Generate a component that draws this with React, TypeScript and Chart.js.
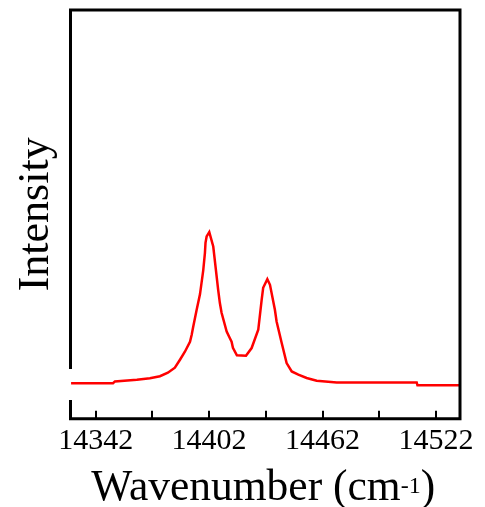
import React, { useEffect, useRef } from "react";
import { Chart, registerables } from "chart.js";

Chart.register(...registerables);

// ---- data ----
const wavenumbers = [
  14329, 14351.2, 14352.2, 14363.8, 14370.7, 14376.0, 14380.2, 14383.9, 14386.6, 14389.2,
  14391.9, 14392.8, 14393.6, 14395.4, 14397.2, 14398.9, 14399.8, 14400.1, 14400.7, 14402.1,
  14404.2, 14406.8, 14407.7, 14408.6, 14411.3, 14413.0, 14413.9, 14414.6, 14416.7, 14421.5,
  14424.5, 14428.0, 14429.8, 14430.6, 14432.8, 14434.2, 14436.8, 14437.7, 14440.4, 14443.0,
  14445.7, 14449.2, 14453.6, 14458.9, 14469.5, 14511.8, 14512.2, 14534.7,
];
const intensities = [
  8.68, 8.68, 9.12, 9.54, 9.9, 10.39, 11.25, 12.47, 14.43, 16.38,
  18.83, 20.54, 22.5, 26.6, 30.5, 36.3, 40.59, 43.03, 44.6, 45.65,
  42.13, 31.54, 28.3, 25.92, 21.34, 19.67, 18.83, 17.36, 15.53, 15.4,
  17.29, 21.76, 29.1, 32.03, 34.16, 32.76, 26.65, 23.79, 18.51, 13.62,
  11.56, 10.76, 9.95, 9.29, 8.88, 8.88, 8.19, 8.19,
];
const xTickValues = [14342, 14372, 14402, 14432, 14462, 14492, 14522];
const xTickLabels = ["14342", "", "14402", "", "14462", "", "14522"];
const xTitleMain = "Wavenumber (cm";
const xTitleSup = "-1";
const xTitleEnd = ")";
const yTitle = "Intensity";

const X_MIN = 14328.7;
const X_MAX = 14534.7;
const Y_MIN = 0;
const Y_MAX = 100;
const FONT = "'Liberation Serif', 'Times New Roman', serif";

const framePlugin = {
  id: "frameAndTitle",
  afterDraw(chart: any) {
    const { ctx, chartArea } = chart;
    const xs = chart.scales.x;
    const ys = chart.scales.y;
    const { left, right, top, bottom } = chartArea;
    ctx.save();
    // frame
    ctx.strokeStyle = "#000";
    ctx.lineWidth = 3;
    ctx.lineCap = "square";
    ctx.beginPath();
    ctx.moveTo(left, top);
    ctx.lineTo(right, top);
    ctx.lineTo(right, bottom);
    ctx.lineTo(left, bottom);
    ctx.lineTo(left, ys.getPixelForValue(4.2));
    ctx.moveTo(left, ys.getPixelForValue(12.5));
    ctx.lineTo(left, top);
    ctx.stroke();
    // inward ticks
    ctx.lineWidth = 2;
    ctx.lineCap = "butt";
    ctx.beginPath();
    for (const v of xTickValues) {
      const px = Math.round(xs.getPixelForValue(v));
      ctx.moveTo(px, bottom);
      ctx.lineTo(px, bottom - 8);
    }
    ctx.stroke();
    // x title with superscript
    ctx.fillStyle = "#000";
    ctx.textBaseline = "alphabetic";
    ctx.textAlign = "left";
    const mainFont = `43.5px ${FONT}`;
    const supFont = `24px ${FONT}`;
    ctx.font = mainFont;
    const w1 = ctx.measureText(xTitleMain).width;
    const w3 = ctx.measureText(xTitleEnd).width;
    ctx.font = supFont;
    const w2 = ctx.measureText(xTitleSup).width;
    const total = w1 + w2 + w3;
    const cx = (left + right) / 2 - 2;
    let x0 = cx - total / 2;
    const base = 500;
    ctx.font = mainFont;
    ctx.fillText(xTitleMain, x0, base);
    x0 += w1;
    ctx.font = supFont;
    ctx.fillText(xTitleSup, x0, base - 7);
    x0 += w2;
    ctx.font = mainFont;
    ctx.fillText(xTitleEnd, x0, base);
    ctx.restore();
  },
};

export default function App() {
  const canvasRef = useRef<HTMLCanvasElement | null>(null);

  useEffect(() => {
    const canvas = canvasRef.current;
    if (!canvas) return;
    const chart = new Chart(canvas, {
      type: "line",
      data: {
        datasets: [
          {
            data: wavenumbers.map((w, i) => ({ x: w, y: intensities[i] })),
            borderColor: "#ff0000",
            borderWidth: 2.5,
            pointRadius: 0,
            tension: 0,
            fill: false,
          },
        ],
      },
      options: {
        animation: false,
        responsive: true,
        maintainAspectRatio: false,
        layout: { padding: { top: 10, right: 25, left: 0, bottom: 0 } },
        plugins: { legend: { display: false }, tooltip: { enabled: false } },
        scales: {
          x: {
            type: "linear",
            min: X_MIN,
            max: X_MAX,
            grid: { display: false, drawTicks: false },
            border: { display: false },
            afterBuildTicks: (scale: any) => {
              scale.ticks = xTickValues.map((v) => ({ value: v }));
            },
            afterFit: (scale: any) => {
              scale.height = 88.3;
            },
            ticks: {
              autoSkip: false,
              maxRotation: 0,
              minRotation: 0,
              padding: 4,
              color: "#000",
              font: { family: FONT, size: 30 },
              callback: (_v: any, i: number) => xTickLabels[i],
            },
          },
          y: {
            type: "linear",
            min: Y_MIN,
            max: Y_MAX,
            grid: { display: false, drawTicks: false },
            border: { display: false },
            ticks: { display: false },
            afterFit: (scale: any) => {
              scale.width = 70.5;
            },
            title: {
              display: true,
              text: yTitle,
              color: "#000",
              font: { family: FONT, size: 44, lineHeight: 1 },
              padding: { top: 14.8, bottom: 0 },
            },
          },
        },
      },
      plugins: [framePlugin],
    });
    return () => chart.destroy();
  }, []);

  return (
    <div
      style={{
        position: "fixed",
        left: 0,
        top: 0,
        width: 485,
        height: 507,
        background: "#fff",
      }}
    >
      <canvas ref={canvasRef} />
    </div>
  );
}
